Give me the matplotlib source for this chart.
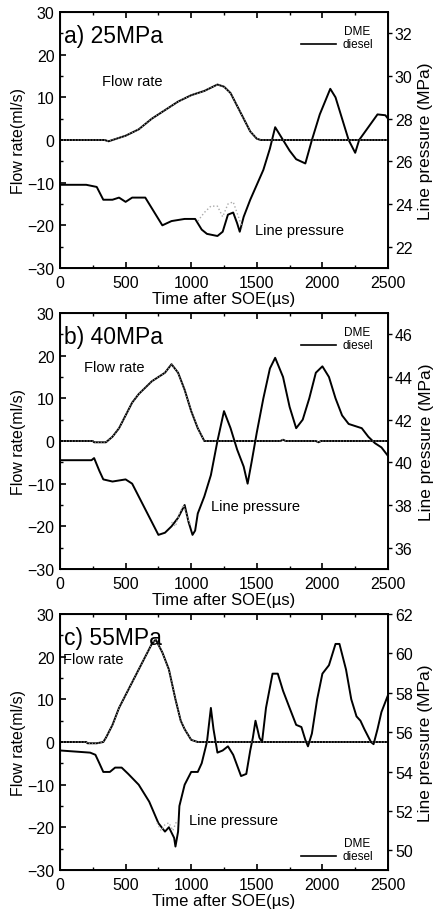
import matplotlib.pyplot as plt
from matplotlib.lines import Line2D

plt.rcParams['font.family'] = ['Liberation Sans', 'DejaVu Sans']

# ---- a) 25MPa ----
t_flow_a = [0, 340, 370, 400, 500, 600, 700, 800, 900, 1000, 1100, 1200, 1250, 1300, 1350, 1400, 1450, 1500, 1530, 2500]
flow_a = [0, 0, -0.3, 0, 1, 2.5, 5, 7, 9, 10.5, 11.5, 13, 12.5, 11, 8, 5, 2, 0.3, 0, 0]
t_pres_a = [0, 200, 280, 330, 400, 450, 500, 550, 650, 700, 780, 850, 950, 1030, 1080, 1120, 1200, 1240, 1280, 1320,
            1350, 1370, 1400, 1450, 1500, 1550, 1600, 1640, 1700, 1750, 1800, 1870, 1920, 1980, 2060, 2100, 2150, 2200,
            2250, 2280, 2350, 2420, 2480, 2500]
pres_a = [24.9, 24.9, 24.8, 24.2, 24.2, 24.3, 24.1, 24.3, 24.3, 23.8, 23.0, 23.2, 23.3, 23.3, 22.8, 22.6, 22.5, 22.7,
          23.5, 23.6, 23.1, 22.7, 23.4, 24.2, 24.9, 25.6, 26.6, 27.6, 27.0, 26.5, 26.1, 25.9, 27.0, 28.2, 29.4, 29.0,
          28.0, 27.0, 26.4, 27.0, 27.6, 28.2, 28.16, 28.0]
t_dme_a = [1050, 1100, 1150, 1200, 1240, 1280, 1320, 1360, 1390]
dme_a = [23.2, 23.6, 23.9, 23.9, 23.4, 24.0, 24.1, 23.4, 22.9]

# ---- b) 40MPa ----
t_flow_b = [0, 250, 260, 350, 400, 450, 500, 550, 600, 700, 800, 850, 900, 950, 1000, 1050, 1100, 1680, 1700, 1720,
            1950, 1970, 1990, 2500]
flow_b = [0, 0, -0.3, -0.3, 1, 3, 6, 9, 11, 14, 16, 18, 16, 12, 7, 3, 0, 0, 0.3, 0, 0, -0.3, 0, 0]
t_pres_b = [0, 240, 260, 300, 330, 400, 500, 550, 600, 650, 700, 750, 800, 850, 900, 950, 980, 1010, 1030, 1050, 1100,
            1150, 1200, 1250, 1300, 1350, 1400, 1430, 1460, 1500, 1550, 1600, 1640, 1700, 1750, 1800, 1850, 1900, 1950,
            2000, 2050, 2100, 2150, 2200, 2300, 2350, 2400, 2450, 2500]
pres_b = [40.1, 40.1, 40.2, 39.6, 39.2, 39.1, 39.2, 39.0, 38.4, 37.8, 37.2, 36.6, 36.7, 37.0, 37.4, 38.0, 37.2, 36.6,
          36.8, 37.6, 38.4, 39.4, 41.0, 42.4, 41.6, 40.6, 39.8, 39.0, 40.0, 41.4, 43.0, 44.4, 44.9, 44.0, 42.6, 41.6,
          42.0, 43.0, 44.2, 44.5, 44.0, 43.0, 42.2, 41.8, 41.6, 41.2, 40.9, 40.7, 40.3]
t_dme_b = [850, 880, 910, 940, 970, 1000]
dme_b = [37.2, 37.0, 37.6, 38.0, 37.4, 37.0]

# ---- c) 55MPa ----
t_flow_c = [0, 200, 210, 280, 330, 350, 400, 450, 500, 550, 600, 650, 700, 730, 780, 830, 880, 920, 950, 1000, 1050,
            2500]
flow_c = [0, 0, -0.3, -0.3, 0, 1, 4, 8, 11, 14, 17, 20, 23, 24, 21, 17, 10, 5, 3, 0.5, 0, 0]
t_pres_c = [0, 230, 270, 300, 330, 380, 420, 470, 520, 600, 680, 750, 800, 830, 870, 880, 900, 910, 950, 1000, 1050,
            1080, 1120, 1150, 1170, 1200, 1240, 1280, 1320, 1380, 1420, 1450, 1470, 1490, 1520, 1540, 1570, 1620, 1660,
            1700, 1750, 1800, 1840, 1870, 1890, 1920, 1960, 2000, 2050, 2100, 2130, 2180, 2220, 2260, 2290, 2320, 2370,
            2390, 2420, 2450, 2500]
pres_c = [55.07, 54.96, 54.85, 54.42, 53.98, 53.98, 54.2, 54.2, 53.88, 53.33, 52.47, 51.38, 50.95, 51.17, 50.63,
          50.19, 50.95, 52.25, 53.33, 53.98, 53.98, 54.42, 55.5, 57.23, 56.15, 54.96, 55.07, 55.28, 54.85, 53.77,
          53.88, 55.07, 55.72, 56.58, 55.72, 55.5, 57.23, 58.97, 58.97, 58.1, 57.23, 56.37, 56.26, 55.61, 55.28,
          55.93, 57.67, 58.97, 59.4, 60.48, 60.48, 59.18, 57.67, 56.8, 56.58, 56.15, 55.5, 55.39, 56.15, 57.02, 57.88]
t_dme_c = [740, 770, 800, 830, 860, 890]
dme_c = [51.4, 51.0, 51.3, 51.4, 51.0, 51.5]

panels = [
    ('a) 25MPa', t_flow_a, flow_a, t_pres_a, pres_a, t_dme_a, dme_a, (21, 33), [22, 24, 26, 28, 30, 32]),
    ('b) 40MPa', t_flow_b, flow_b, t_pres_b, pres_b, t_dme_b, dme_b, (35, 47), [36, 38, 40, 42, 44, 46]),
    ('c) 55MPa', t_flow_c, flow_c, t_pres_c, pres_c, t_dme_c, dme_c, (49, 62), [50, 52, 54, 56, 58, 60, 62]),
]
bottoms = [1 - 269 / 912, 1 - 570 / 912, 1 - 871 / 912]
# (flow rate label, line pressure label, legend anchor) in axes fractions
labels_pos = [((0.128, 0.73), (0.595, 0.15), (0.955, 0.96)),
              ((0.073, 0.79), (0.46, 0.246), (0.955, 0.96)),
              ((0.01, 0.824), (0.393, 0.195), (0.955, 0.14))]

fig = plt.figure(figsize=(4.4, 9.12), dpi=100)
for i, (title, tf, fv, tp, pv, td, dv, plim, pticks) in enumerate(panels):
    ax = fig.add_axes([60 / 440, bottoms[i], 328 / 440, 256 / 912])
    ax2 = ax.twinx()
    # flow rate, left axis
    ax.plot(tf, fv, color='black', lw=1.4)
    ax.plot(tf, fv, color='#999999', lw=0.8, ls=':')
    # line pressure, right axis
    ax2.plot(tp, pv, color='black', lw=1.4)
    ax2.plot(td, dv, color='#aaaaaa', lw=1, ls=':')
    ax.set_xlim(0, 2500)
    ax.set_ylim(-30, 30)
    ax2.set_ylim(*plim)
    ax.set_xticks([0, 500, 1000, 1500, 2000, 2500])
    ax.set_xticks([250, 750, 1250, 1750, 2250], minor=True)
    ax.set_yticks([-30, -20, -10, 0, 10, 20, 30])
    ax.set_yticks([-25, -15, -5, 5, 15, 25], minor=True)
    ax2.set_yticks(pticks)
    ax.tick_params(direction='in', top=True, labelsize=11.5, length=4, width=1.2, pad=4)
    ax.tick_params(axis='x', pad=5)
    ax.tick_params(which='minor', direction='in', top=True, length=2.5, width=1)
    ax2.tick_params(direction='out', labelsize=11.5, length=3, width=1, pad=2)
    for sp in ax.spines.values():
        sp.set_linewidth(1.4)
    ax.set_ylabel('Flow rate(ml/s)', fontsize=11.5, labelpad=1)
    ax2.set_ylabel('Line pressure (MPa)', fontsize=12.5, labelpad=4)
    ax.set_xlabel('Time after SOE(µs)', fontsize=12, labelpad=1)
    ax.text(0.012, 0.955, title, transform=ax.transAxes, fontsize=16.5, va='top', ha='left')
    fp, lp, lg = labels_pos[i]
    ax.text(fp[0], fp[1], 'Flow rate', transform=ax.transAxes, fontsize=10.5, va='center')
    ax.text(lp[0], lp[1], 'Line pressure', transform=ax.transAxes, fontsize=10.5, va='center')
    # legend: DME line is too faint to see, diesel solid
    ax.text(lg[0] - 0.05, lg[1] - 0.035, 'DME', transform=ax.transAxes, fontsize=8.5, va='center', ha='center')
    ax.text(lg[0], lg[1] - 0.085, 'diesel', transform=ax.transAxes, fontsize=8.5, va='center', ha='right')
    ax.add_line(Line2D([lg[0] - 0.22, lg[0] - 0.115], [lg[1] - 0.085, lg[1] - 0.085],
                       transform=ax.transAxes, color='black', lw=1.2))
    ax.set_zorder(ax2.get_zorder() + 1)
    ax.patch.set_visible(False)

fig.savefig('out.png', dpi=100)
